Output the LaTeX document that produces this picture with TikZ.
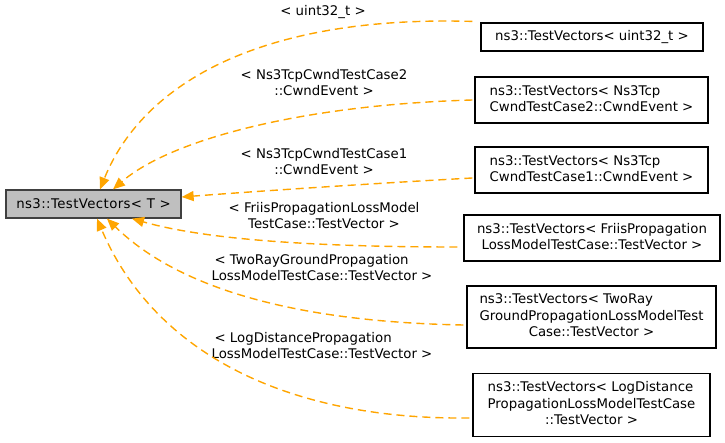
\documentclass[tikz,border=0pt]{standalone}
\usepackage{fontspec}
\setmainfont{DejaVu Sans}
\usetikzlibrary{arrows.meta}
\definecolor{edgeorange}{HTML}{FFA500}
\definecolor{basefill}{HTML}{BFBFBF}
\definecolor{baseborder}{HTML}{404040}
\newcommand{\dxtwo}[2]{\begin{tabular}{@{}l@{}}#1\\\multicolumn{1}{@{}c@{}}{#2}\end{tabular}}
\newcommand{\dxthree}[3]{\begin{tabular}{@{}l@{}}#1\\#2\\\multicolumn{1}{@{}c@{}}{#3}\end{tabular}}
\begin{document}
\begin{tikzpicture}[x=1pt,y=-1pt,
  every node/.style={font=\fontsize{13.3}{16.5}\selectfont, inner sep=0pt},
  cls/.style={draw=black, line width=1.2pt, fill=white},
  basecls/.style={draw=baseborder, line width=1.3pt, fill=basefill,
    font=\fontsize{13.3}{16.5}\selectfont\addfontfeature{LetterSpace=3}},
  inh/.style={draw=edgeorange, line width=1.4pt, dash pattern=on 8pt off 5pt,
    -{Triangle[length=12pt,width=10pt]}, fill=none},
  lbl/.style={}]
\useasboundingbox (0,0) rectangle (725,443);
\node[basecls, minimum width=175pt, minimum height=28pt] (base) at (93.5,204) {ns3::TestVectors< T >};
\node[cls, minimum width=222pt, minimum height=28pt] (u32) at (592,37) {ns3::TestVectors< uint32\_t >};
\node[cls, minimum width=233pt, minimum height=46pt] (tcp2) at (591.5,100) {\dxtwo{ns3::TestVectors< Ns3Tcp}{CwndTestCase2::CwndEvent >}};
\node[cls, minimum width=233pt, minimum height=46pt] (tcp1) at (591.5,170) {\dxtwo{ns3::TestVectors< Ns3Tcp}{CwndTestCase1::CwndEvent >}};
\node[cls, minimum width=256pt, minimum height=46pt] (friis) at (592,238) {\dxtwo{ns3::TestVectors< FriisPropagation}{LossModelTestCase::TestVector >}};
\node[cls, minimum width=249pt, minimum height=62pt] (tworay) at (591.5,317) {\dxthree{ns3::TestVectors< TwoRay}{GroundPropagationLossModelTest}{Case::TestVector >}};
\node[cls, minimum width=237pt, minimum height=63pt] (logd) at (591.5,405) {\dxthree{ns3::TestVectors< LogDistance}{PropagationLossModelTestCase}{::TestVector >}};

\node[lbl] (lu32) at (323,12) {< uint32\_t >};
\node[lbl] (ltcp2) at (324,84) {\dxtwo{< Ns3TcpCwndTestCase2}{::CwndEvent >}};
\node[lbl] (ltcp1) at (324,163) {\dxtwo{< Ns3TcpCwndTestCase1}{::CwndEvent >}};
\node[lbl] (lfriis) at (324,217) {\dxtwo{< FriisPropagationLossModel}{TestCase::TestVector >}};
\node[lbl] (ltworay) at (322,269) {\dxtwo{\hspace*{3pt}< TwoRayGroundPropagation}{LossModelTestCase::TestVector >}};
\node[lbl] (llogd) at (322,347) {\dxtwo{\hspace*{3pt}< LogDistancePropagation}{LossModelTestCase::TestVector >}};

\draw[inh] ([xshift=-8pt,yshift=1pt]u32.north west) .. controls (250,15) and (140,90) .. ([xshift=6.5pt]base.north);
\draw[inh] ([xshift=-2pt]tcp2.west) .. controls (300,105) and (170,140) .. ([xshift=19.5pt]base.north);
\draw[inh] ([xshift=-2pt,yshift=-8pt]tcp1.west) .. controls (380,183) and (260,191) .. ([yshift=7pt]base.east);
\draw[inh] ([xshift=-6pt,yshift=-9pt]friis.west) .. controls (300,247) and (200,238) .. ([xshift=38.5pt]base.south);
\draw[inh] ([xshift=-3pt,yshift=-8pt]tworay.west) .. controls (300,322) and (180,290) .. ([xshift=13.5pt]base.south);
\draw[inh] ([xshift=-3pt,yshift=-13pt]logd.west) .. controls (290,420) and (155,355) .. ([xshift=3.5pt]base.south);
\end{tikzpicture}
\end{document}
